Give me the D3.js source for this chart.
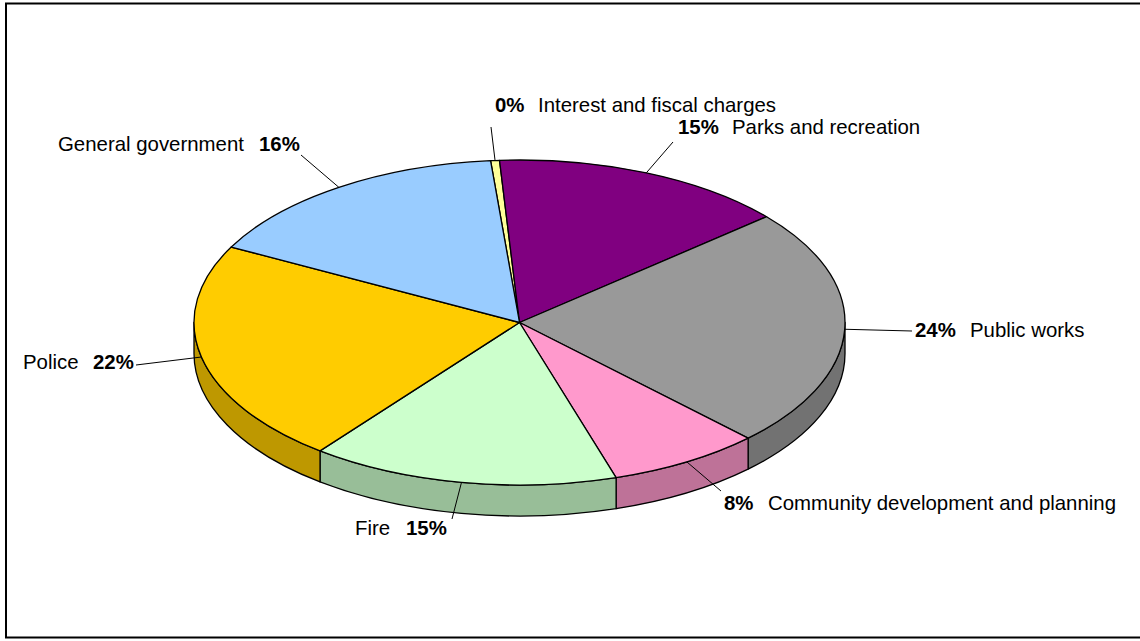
<!DOCTYPE html>
<html>
<head>
<meta charset="utf-8">
<script src="https://cdnjs.cloudflare.com/ajax/libs/d3/7.8.5/d3.min.js"></script>
<style>
  html, body { margin: 0; padding: 0; background: #fff; overflow: hidden; }
  text { font-family: "Liberation Sans", Arial, sans-serif; font-size: 20.4px; fill: #000; }
</style>
</head>
<body>
<svg id="chart" width="1140" height="641"></svg>
<script>
// Expenses by function, clockwise from the top of the pie
const categories = ["Interest and fiscal charges", "Parks and recreation", "Public works",
  "Community development and planning", "Fire", "Police", "General government"];
const shares = [0.44, 14.7, 23.9, 7.6, 15.3, 22.2, 15.9];
const topColors = ["#ffff99", "#800080", "#999999", "#ff99cc", "#ccffcc", "#ffcc00", "#99ccff"];

// Label placement: text start, baseline and outer end of the leader
const labelLayout = [
  { pctX: 495, nameX: 538, y: 112, lead: [491, 127] },
  { pctX: 678, nameX: 732, y: 134, lead: [673, 142] },
  { pctX: 915, nameX: 970, y: 337, lead: [912, 331] },
  { pctX: 724, nameX: 768, y: 510, lead: [721, 491] },
  { pctX: 406, nameX: 355, y: 535, lead: [452, 519] },
  { pctX: 93,  nameX: 23,  y: 369, lead: [136, 365] },
  { pctX: 259, nameX: 58,  y: 151, lead: [301, 155] }
];

const svg = d3.select("#chart");
const RX = 325.5, RY = 162.5, DEPTH = 31;
const x = d3.scaleLinear().domain([-1, 1]).range([519.5 - RX, 519.5 + RX]);
const y = d3.scaleLinear().domain([-1, 1]).range([322.5 - RY, 322.5 + RY]);
const pctFormat = v => d3.format(".0f")(v) + "%";

const startAngle = -5.1 * Math.PI / 180;
const arcs = d3.pie().sort(null).startAngle(startAngle).endAngle(startAngle + 2 * Math.PI)(shares);

const px = a => x(Math.sin(a));
const py = a => y(-Math.cos(a));

// Frame, open past the right edge of the page
svg.append("rect").attr("x", 6).attr("y", 3.5).attr("width", 1200).attr("height", 634)
  .attr("fill", "#fff").attr("stroke", "#000").attr("stroke-width", 2);

// Front wall: only the stretch of each slice between 90 and 270 degrees shows
const walls = svg.append("g");
arcs.forEach((d, i) => {
  const a0 = Math.max(d.startAngle, Math.PI / 2);
  const a1 = Math.min(d.endAngle, 3 * Math.PI / 2);
  if (a1 <= a0) return;
  const path = `M${px(a0)},${py(a0)}A${RX},${RY} 0 0 1 ${px(a1)},${py(a1)}` +
    `L${px(a1)},${py(a1) + DEPTH}A${RX},${RY} 0 0 0 ${px(a0)},${py(a0) + DEPTH}Z`;
  walls.append("path").attr("d", path)
    .attr("fill", d3.rgb(topColors[i]).darker(0.83).formatHex())
    .attr("stroke", "#000").attr("stroke-width", 1.3).attr("stroke-linejoin", "round");
});

// Top face
svg.append("g").selectAll("path").data(arcs).join("path")
  .attr("d", d => {
    const large = d.endAngle - d.startAngle > Math.PI ? 1 : 0;
    return `M${x(0)},${y(0)}L${px(d.startAngle)},${py(d.startAngle)}` +
      `A${RX},${RY} 0 ${large} 1 ${px(d.endAngle)},${py(d.endAngle)}Z`;
  })
  .attr("fill", (d, i) => topColors[i])
  .attr("stroke", "#000").attr("stroke-width", 1.3).attr("stroke-linejoin", "round");

// Leaders run from the middle of each slice's rim out to its label
svg.append("g").selectAll("line").data(arcs).join("line")
  .attr("x1", d => px((d.startAngle + d.endAngle) / 2))
  .attr("y1", d => py((d.startAngle + d.endAngle) / 2))
  .attr("x2", (d, i) => labelLayout[i].lead[0])
  .attr("y2", (d, i) => labelLayout[i].lead[1])
  .attr("stroke", "#000").attr("stroke-width", 1);

// Labels: bold percentage plus category name
const labels = svg.append("g");
arcs.forEach((d, i) => {
  const l = labelLayout[i];
  labels.append("text").attr("x", l.pctX).attr("y", l.y)
    .attr("font-weight", "bold").text(pctFormat(d.value));
  labels.append("text").attr("x", l.nameX).attr("y", l.y).text(categories[i]);
});
</script>
</body>
</html>
